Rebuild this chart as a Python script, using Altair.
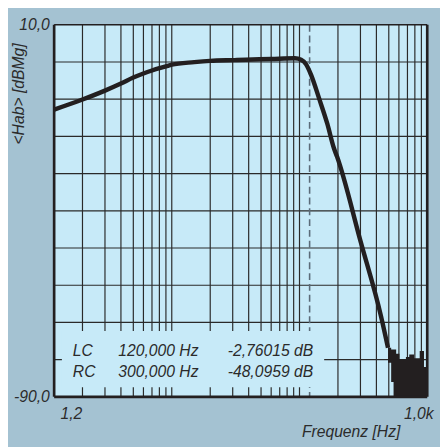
import altair as alt
import pandas as pd

# main response curve
freq = [1.2, 2, 3, 4, 5, 6, 7, 9, 10, 15, 20, 31, 38, 60, 92, 103, 113, 123, 143, 165, 186, 197, 300, 435, 493]
level = [-12.8, -10.1, -7.7, -5.8, -4.2, -3.1, -2.3, -1.2, -0.74, -0.05, 0.3, 0.5, 0.6, 0.8, 1.0, 0.6, -0.7, -3.4, -10.0, -16.6, -23.2, -25.5, -48.1, -68.4, -76.8]

# noise floor at the top end
noise_f = [493, 522, 545, 571, 606, 681, 723, 790, 873, 943, 1000]
noise_top = [-76.8, -77.3, -77.3, -78.4, -79.9, -79.3, -78.6, -79.6, -77.7, -82.0, -82.0]
noise_bot = [-80.8, -86.0, -90, -90, -90, -90, -90, -90, -90, -90, -90]

grid_x = [2, 3, 4, 5, 6, 7, 8, 9, 10, 20, 30, 40, 50, 60, 70, 80, 90,
          100, 200, 300, 400, 500, 600, 700, 800, 900]
grid_y = [-80, -70, -60, -50, -40, -30, -20, -10, 0]

cursor_lc = [120]

box_names = ["LC", "RC"]
box_hz = ["120,000 Hz", "300,000 Hz"]
box_db = ["-2,76015 dB", "-48,0959 dB"]
box_rows = [-77.7, -83.4]
box_f = [1.38, 156]
box_db_range = [-72.3, -87.4]
col_name_f = 1.68
col_hz_f = 16.2
col_db_f = 27.4

FONT = "Liberation Sans"
TXT = "#2b2b2b"
VIEW = "#c7eaf8"
OUTER = "#a4c2d2"
INK = "#231f20"

xs = alt.Scale(type="log", domain=[1.2, 1000], nice=False, zero=False)
ys = alt.Scale(domain=[-90, 10], nice=False, zero=False)

xaxis = alt.Axis(
    values=[1.2, 1000], grid=False, domain=False, ticks=False, tickSize=0,
    labelExpr="datum.value < 10 ? '1,2' : '1,0k'",
    labelAlign={"expr": "datum.value < 10 ? 'left' : 'right'"},
    labelOffset=6, labelFlush=False, labelOverlap=False, labelBound=False,
    labelPadding=17, labelBaseline="middle",
    labelFont=FONT, labelFontStyle="italic", labelFontSize=16, labelColor=TXT,
    title="Frequenz [Hz]", titleFont=FONT, titleFontStyle="italic",
    titleFontWeight="normal", titleFontSize=16, titleColor=TXT,
    titleX=302, titleY=35, titleAlign="center", titleBaseline="middle",
)
yaxis = alt.Axis(
    values=[-90, 10], grid=False, domain=False, ticks=False, tickSize=0,
    labelExpr="datum.value > 0 ? '10,0' : '-90,0'",
    labelFlush=False, labelOverlap=False, labelBound=False,
    labelPadding=5, labelBaseline="middle",
    labelFont=FONT, labelFontStyle="italic", labelFontSize=16, labelColor=TXT,
    title="<Hab> [dBMg]", titleFont=FONT, titleFontStyle="italic",
    titleFontWeight="normal", titleFontSize=16, titleColor=TXT,
    titleAngle=270, titleX=-36, titleY=70, titleAlign="center", titleBaseline="middle",
)

X = alt.X("f:Q", scale=xs, axis=xaxis)
Y = alt.Y("db:Q", scale=ys, axis=yaxis)

gx = pd.DataFrame({"f": grid_x})
gy = pd.DataFrame({"db": grid_y})

vgrid = alt.Chart(gx).mark_rule(color="#2a2a2a", strokeWidth=1.2).encode(x=X)
hgrid = alt.Chart(gy).mark_rule(color="#2a2a2a", strokeWidth=1.2).encode(y=Y)

cursor = alt.Chart(pd.DataFrame({"f": cursor_lc})).mark_rule(
    color="#5b6b78", strokeWidth=1.6, strokeDash=[7, 4]).encode(x=X)

box = alt.Chart(pd.DataFrame({"f": [box_f[0]], "f2": [box_f[1]],
                              "db": [box_db_range[0]], "db2": [box_db_range[1]]})).mark_rect(
    color=VIEW).encode(x=X, x2="f2", y=Y, y2="db2")

tdf = pd.DataFrame({"name": box_names, "hz": box_hz, "dbt": box_db, "db": box_rows,
                    "fn": [col_name_f] * 2, "fh": [col_hz_f] * 2, "fd": [col_db_f] * 2})
tstyle = dict(font=FONT, fontStyle="italic", fontSize=16, color=TXT, baseline="middle")
t1 = alt.Chart(tdf).mark_text(align="left", **tstyle).encode(
    x=alt.X("fn:Q", scale=xs, axis=xaxis), y=Y, text="name:N")
t2 = alt.Chart(tdf).mark_text(align="right", **tstyle).encode(
    x=alt.X("fh:Q", scale=xs, axis=xaxis), y=Y, text="hz:N")
t3 = alt.Chart(tdf).mark_text(align="left", **tstyle).encode(
    x=alt.X("fd:Q", scale=xs, axis=xaxis), y=Y, text="dbt:N")

noise = alt.Chart(pd.DataFrame({"f": noise_f, "db": noise_top, "db2": noise_bot})).mark_area(
    color=INK, interpolate="step-after").encode(x=X, y=Y, y2="db2")

curve = alt.Chart(pd.DataFrame({"f": freq, "db": level})).mark_line(
    color=INK, strokeWidth=4.5, interpolate="monotone").encode(x=X, y=Y)

border_v = alt.Chart(pd.DataFrame({"f": [1.2, 1000]})).mark_rule(
    color=INK, strokeWidth=2.7).encode(x=X)
border_b = alt.Chart(pd.DataFrame({"db": [-90]})).mark_rule(
    color=INK, strokeWidth=2.7).encode(y=Y)
border_t = alt.Chart(pd.DataFrame({"db": [10]})).mark_rule(
    color=INK, strokeWidth=1.4).encode(y=Y)

chart = alt.layer(
    vgrid, hgrid, cursor, box, t1, t2, t3, noise, curve, border_v, border_b, border_t
).properties(
    width=380, height=379,
    padding={"left": 47, "top": 13, "right": 13, "bottom": 47},
    autosize=alt.AutoSizeParams(type="none"),
    background=OUTER,
).configure_view(fill=VIEW, stroke=None)

chart.save("out.html", embed_options={"renderer": "svg", "actions": False})
